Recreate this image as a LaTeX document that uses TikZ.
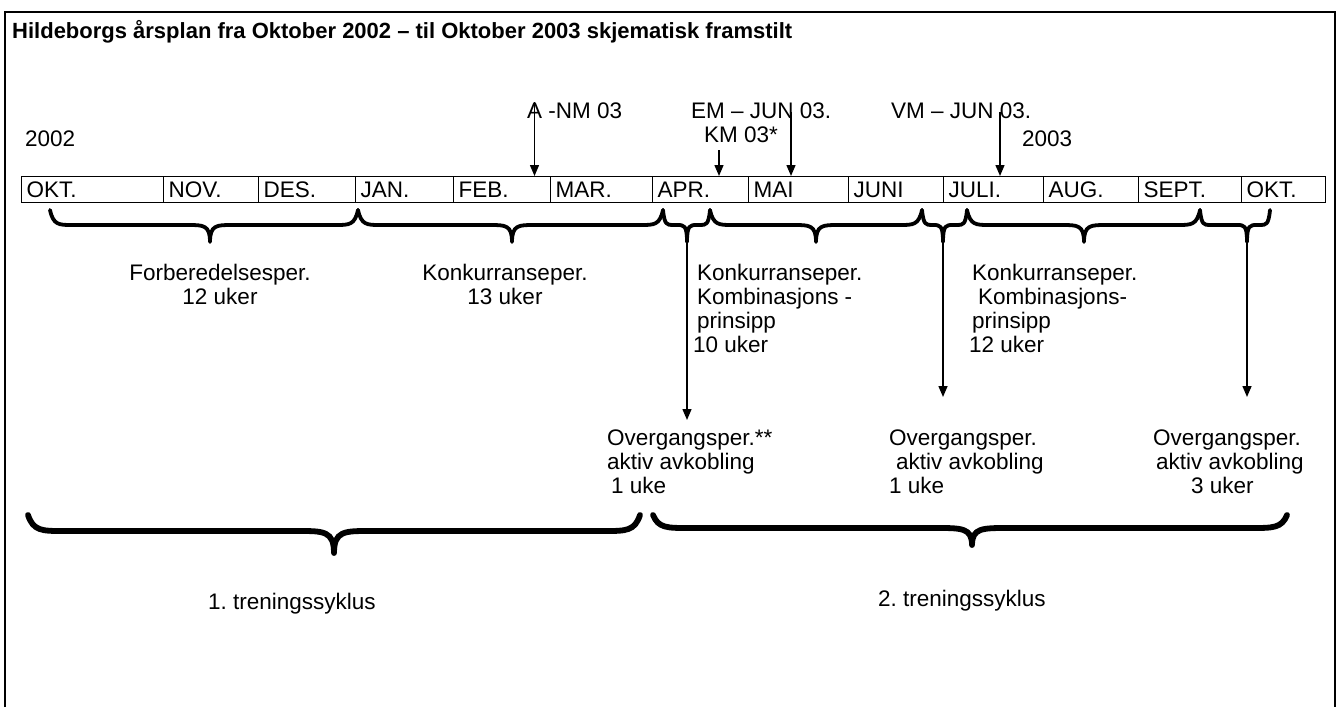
\documentclass[tikz,border=0pt]{standalone}
\usepackage{fontspec}
\setmainfont{Liberation Sans}
\usepackage{tikz}
\usetikzlibrary{arrows.meta,positioning,calc}
\frenchspacing

\tikzset{
  txt/.style={inner sep=0pt, font=\fontsize{22.5}{24}\selectfont},
  monthbox/.style={draw, line width=1.3pt, rectangle, inner xsep=5pt, inner ysep=0pt,
    minimum height=26pt, align=left, anchor=north west, font=\fontsize{22.5}{24}\selectfont},
  arr/.style={line width=1.4pt, -{Triangle[length=11pt,width=9pt]}},
  brc/.style={line width=3.8pt, line cap=round, line join=round},
  brcbig/.style={line width=5.8pt, line cap=round, line join=round},
}

%% curly brace: [style]{name}{x1}{xtip}{x2}{ytop}{ybar}{ytip}{r}
\newcommand{\wbrace}[9][brc]{%
  \draw[#1] (#3,#6) .. controls (#3+0.15*#9,#7) and (#3+0.4*#9,#7) .. (#3+#9,#7)
    -- (#4-#9,#7) .. controls (#4-0.3*#9,#7) and (#4,#7) .. (#4,#8)
    .. controls (#4,#7) and (#4+0.3*#9,#7) .. (#4+#9,#7)
    -- (#5-#9,#7) .. controls (#5-0.4*#9,#7) and (#5-0.15*#9,#7) .. (#5,#6);
  \coordinate (#2) at (#4,#8);}

\begin{document}
\begin{tikzpicture}[x=1pt,y=-1pt]
  \useasboundingbox (0,0) rectangle (1340,707);

  %% frame and title
  \draw[line width=1.8pt] (5,707) -- (5,12) -- (1335,12) -- (1335,707);
  \node[txt, anchor=north west, font=\fontsize{22}{24}\selectfont\bfseries] (title) at (12,20)
    {Hildeborgs årsplan fra Oktober 2002 – til Oktober 2003 skjematisk framstilt};

  %% months
  \foreach \i/\a/\b/\m in {1/21/163/OKT., 2/163/258/NOV., 3/258/355/DES., 4/355/453/JAN.,
      5/453/550/FEB., 6/550/652/MAR., 7/652/748/APR., 8/748/848/MAI, 9/848/943/JUNI,
      10/943/1043/JULI., 11/1043/1138/AUG., 12/1138/1241/SEPT., 13/1241/1325/OKT.} {
    \pgfmathsetmacro\w{\b-\a}
    \pgfmathsetmacro\tw{\b-\a-10}
    \node[monthbox, minimum width=\w pt, text width=\tw pt] (m\i) at (\a,176) {\m};
  }

  %% years and events
  \node[txt, anchor=base west] (y02) at (25,146) {2002};
  \node[txt, anchor=base west] (y03) at (1022,146) {2003};
  \node[txt, anchor=base west] (anm) at (527,118) {A -NM 03};
  \node[txt, anchor=base west] (em) at (691,118) {EM – JUN 03.};
  \node[txt, anchor=base west] (km) at (704,142) {KM 03*};
  \node[txt, anchor=base west] (vm) at (891,118) {VM – JUN 03.};

  \coordinate (anmtop) at ([xshift=7.5pt]anm.north west);
  \coordinate (emtop) at (791,112);
  \coordinate (kmtop) at (719,150);
  \coordinate (vmtop) at (1000,112);
  \draw[arr] (anmtop) -- (anmtop |- m5.north);
  \draw[arr] (kmtop) -- (kmtop |- m7.north);
  \draw[arr] (emtop) -- (emtop |- m8.north);
  \draw[arr] (vmtop) -- (vmtop |- m10.north);

  %% period braces
  \wbrace{b1}{50}{210}{358}{210}{225}{242}{22}
  \wbrace{b2}{358}{512}{663}{210}{225}{242}{22}
  \wbrace{b3}{663}{687}{710}{210}{225}{242}{10}
  \wbrace{b4}{710}{816}{922}{210}{225}{242}{22}
  \wbrace{b5}{922}{943}{967}{210}{225}{242}{10}
  \wbrace{b6}{967}{1084}{1200}{210}{225}{242}{22}
  \wbrace{b7}{1200}{1247}{1270}{210}{225}{242}{10}

  \node[txt, align=center, anchor=north] (fb) at (220,264) {Forberedelsesper.\\12 uker};
  \node[txt, align=center, anchor=north] (kp1) at (505,264) {Konkurranseper.\\13 uker};
  \node[txt, align=left, anchor=north west] (kp2) at (697,264)
    {Konkurranseper.\\Kombinasjons -\\prinsipp\\\hspace*{-4pt}10 uker};
  \node[txt, align=left, anchor=north west] (kp3) at (972,264)
    {Konkurranseper.\\\hspace*{6pt}Kombinasjons-\\prinsipp\\\hspace*{-3pt}12 uker};

  %% transition periods
  \coordinate (og1end) at (687,420);
  \coordinate (og2end) at (943,397);
  \coordinate (og3end) at (1247,397);
  \draw[arr] (b3) -- (og1end);
  \draw[arr] (b5) -- (og2end);
  \draw[arr] (b7) -- (og3end);

  \node[txt, align=left, anchor=north west] (og1) at (607,430)
    {Overgangsper.**\\aktiv avkobling\\\hspace*{4pt}1 uke};
  \node[txt, align=left, anchor=north west] (og2) at (889,430)
    {Overgangsper.\\\hspace*{7pt}aktiv avkobling\\1 uke};
  \node[txt, align=left, anchor=north west] (og3) at (1153,430)
    {Overgangsper.\\\hspace*{3pt}aktiv avkobling\\\hspace*{38pt}3 uker};

  %% training cycles
  \wbrace[brcbig]{c1tip}{28}{334}{640}{515}{531}{553}{35}
  \wbrace[brcbig]{c2tip}{653}{972}{1287}{515}{528}{545}{35}
  \node[txt, anchor=north west] (c1) at (208,593) {1. treningssyklus};
  \node[txt, anchor=north west] (c2) at (878,590) {2. treningssyklus};
\end{tikzpicture}
\end{document}
